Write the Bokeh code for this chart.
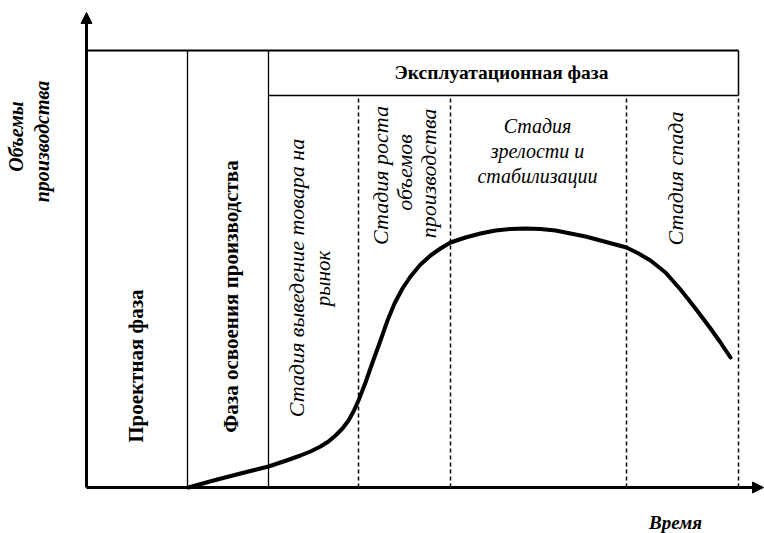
import math
from bokeh.plotting import figure
from bokeh.models import Range1d, Arrow, NormalHead
from bokeh.core.properties import value
from bokeh.embed import file_html
from bokeh.resources import INLINE

# ---- data (time units along x, volume units along y) ----
phase_bounds = [0, 101, 182, 652]           # project | development | operation
stage_bounds = [272, 364, 540, 652]         # dashed stage separators in operation phase
box_top = 437
header_bottom = 392

curve_t = [102, 127, 154, 182, 200, 214, 224, 234, 242, 249, 256, 262, 267, 272,
           279, 286, 294, 301, 308, 316, 324, 334, 344, 354, 364, 379, 394, 409,
           424, 439, 454, 469, 484, 499, 514, 527, 540, 552, 564, 579, 594, 609,
           624, 634, 644]
curve_v = [0, 7, 14, 21, 27, 32, 36, 41, 46, 52, 59, 67, 76, 87,
           105, 125, 147, 167, 184, 199, 211, 223, 232, 239, 245, 250, 254, 257,
           258.5, 259, 258.5, 257, 254, 251, 247, 243.5, 240, 234, 227, 215, 198, 179,
           159, 145, 130]

y_label = ["Объемы", "производства"]
x_label = "Время"
phase_labels = ["Проектная  фаза", "Фаза освоения производства", "Эксплуатационная фаза"]
stage1 = ["Стадия выведение  товара  на", "рынок"]
stage2 = ["Стадия роста", "объемов", "производства"]
stage3 = ["Стадия", "зрелости и", "стабилизации"]
stage4 = ["Стадия спада"]

W, H = 764, 533
X0, Y0 = 86, 487  # axis origin in canvas pixels

p = figure(width=W, height=H, output_backend="svg", toolbar_location=None,
           x_range=Range1d(-X0, W - X0), y_range=Range1d(-(H - Y0), Y0),
           min_border=0)
p.axis.visible = False
p.grid.visible = False
p.outline_line_color = None
p.background_fill_color = "white"
p.border_fill_color = "white"

SERIF = value("Liberation Serif")

# axes with arrows
p.add_layout(Arrow(end=NormalHead(size=11, fill_color="black", line_color="black"),
                   x_start=0, y_start=0, x_end=0, y_end=475, line_width=3))
p.add_layout(Arrow(end=NormalHead(size=11, fill_color="black", line_color="black"),
                   x_start=0, y_start=0, x_end=677, y_end=0, line_width=3))

# box top
p.segment(x0=[phase_bounds[0]], y0=[box_top], x1=[phase_bounds[-1]], y1=[box_top],
          line_color="black", line_width=2)
# phase separators (solid)
p.segment(x0=phase_bounds[1:3], y0=[0, 0], x1=phase_bounds[1:3], y1=[box_top, box_top],
          line_color="black", line_width=1.3)
# header box
p.segment(x0=[phase_bounds[2]], y0=[header_bottom], x1=[phase_bounds[3]], y1=[header_bottom],
          line_color="black", line_width=1.5)
p.segment(x0=[phase_bounds[3]], y0=[header_bottom], x1=[phase_bounds[3]], y1=[box_top],
          line_color="black", line_width=1.5)
# dashed stage separators
p.segment(x0=stage_bounds, y0=[0] * 4, x1=stage_bounds, y1=[header_bottom] * 4,
          line_color="black", line_width=1.5, line_dash="4 3")

# life-cycle curve
p.line(curve_t, curve_v, line_color="black", line_width=4, line_join="round", line_cap="round")

def txt(x, y, s, size, style, angle=0.0):
    p.text(x=[x - X0], y=[Y0 - y], text=[s], angle=angle, text_font=SERIF,
           text_font_size=size, text_font_style=style, text_color="black",
           text_align="center", text_baseline="middle")

R = math.pi / 2
# y-axis label
txt(15, 136, y_label[0], "20px", "bold italic", R)
txt(41, 141, y_label[1], "20px", "bold italic", R)
# x-axis label
txt(675, 522, x_label, "19px", "bold italic")
# phases
txt(135, 363, phase_labels[0], "21px", "bold", R)
txt(230, 296, phase_labels[1], "21px", "bold", R)
txt(501, 72, phase_labels[2], "19.5px", "bold")
# stage 1
txt(296, 272, stage1[0], "22px", "italic", R)
txt(322, 278, stage1[1], "21px", "italic", R)
# stage 2
for i, s in enumerate(stage2):
    txt(380 + 24 * i, [175, 172, 173][i], s, "22px", "italic", R)
# stage 3
for i, s in enumerate(stage3):
    txt(537, 125 + 25 * i, s, "20px", "italic")
# stage 4
txt(675, 178, stage4[0], "22px", "italic", R)

open("out.html", "w").write(file_html(p, INLINE))
